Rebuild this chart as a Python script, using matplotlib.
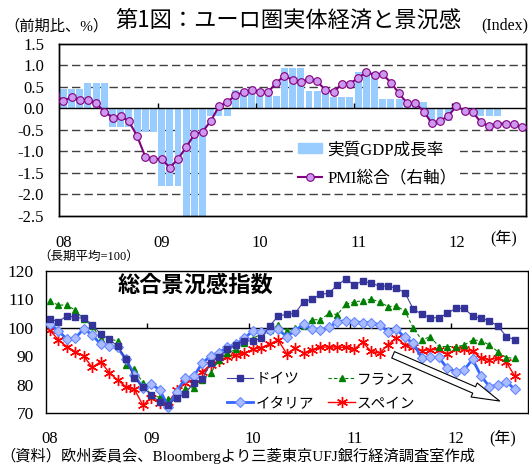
import matplotlib
matplotlib.use("Agg")
import matplotlib.pyplot as plt
from matplotlib.patches import Patch
from matplotlib.lines import Line2D
import numpy as np

plt.rcParams['font.family'] = ['Liberation Serif', 'Noto Sans CJK JP']
JP = ['Noto Sans CJK JP', 'DejaVu Sans']

# --- data (monthly, Jan 2008 = month 0) ---
year_labels = ['08', '09', '10', '11', '12']

# real GDP q/q %, one value per quarter (drawn as 3 monthly bars)
gdp_q = [0.45, 0.6, -0.44, -0.55, -1.8, -2.5, -0.17, 0.43, 0.3, 0.95,
         0.41, 0.27, 0.85, 0.21, 0.16, -0.29, 0.0, -0.18, np.nan]

# composite PMI, Dec 2007 .. Sep 2012 (right axis)
pmi = [53.4,
       51.7, 52.7, 51.9, 52.0, 51.2, 49.3, 47.9, 48.2, 47.0, 43.6, 38.8, 38.2,
       38.3, 36.2, 38.3, 41.0, 44.0, 44.6, 47.1, 50.5, 51.4, 53.1, 53.8, 54.3,
       53.8, 53.8, 56.0, 57.6, 56.6, 56.1, 56.9, 56.3, 54.3, 53.8, 55.7, 55.8,
       57.1, 58.4, 57.8, 58.0, 56.0, 53.5, 51.2, 51.3, 49.3, 46.6, 47.1, 48.3,
       50.5, 49.5, 49.1, 46.8, 45.9, 46.5, 46.5, 46.3, 45.6]

# economic sentiment indicator, Jan 2008 .. Aug 2012
germany = [103.1, 102.1, 104.2, 103.6, 103.3, 101.1, 97.8, 96.0, 93.5, 88.9, 82.3, 79.2,
           76.3, 74.0, 73.0, 75.5, 76.8, 80.7, 81.9, 87.5, 89.9, 92.5, 94.0, 95.4,
           95.4, 96.3, 100.6, 104.1, 104.7, 105.0, 109.1, 110.0, 111.7, 112.1, 115.0, 117.0,
           115.0, 116.4, 115.6, 114.6, 114.6, 113.8, 112.3, 106.4, 104.8, 103.5, 103.5, 105.0,
           106.8, 106.8, 104.1, 103.3, 102.4, 100.6, 96.9, 95.8]
france = [109.4, 107.9, 108.0, 106.1, 103.0, 100.6, 96.2, 95.9, 95.5, 86.8, 85.7, 80.5,
          76.3, 75.6, 74.9, 75.3, 78.6, 79.0, 81.5, 84.0, 88.7, 91.0, 92.5, 94.5,
          96.2, 97.9, 99.2, 100.9, 99.0, 99.8, 100.5, 102.8, 102.8, 105.0, 104.6, 108.2,
          109.1, 109.4, 110.0, 109.1, 107.4, 107.6, 105.8, 99.8, 95.7, 96.9, 93.4, 93.4,
          93.4, 93.9, 95.7, 95.5, 93.9, 91.6, 89.5, 89.3]
italy = [101.3, 98.9, 96.0, 96.4, 99.6, 97.5, 94.2, 93.6, 93.1, 88.9, 83.4, 78.8,
         80.2, 78.2, 72.3, 77.6, 82.3, 82.9, 87.5, 90.1, 91.3, 93.1, 94.2, 96.3,
         98.9, 98.6, 99.2, 99.4, 96.9, 98.9, 101.3, 99.4, 99.2, 100.1, 102.1, 102.5,
         102.1, 101.8, 101.8, 101.0, 98.6, 99.4, 96.6, 94.5, 89.3, 89.6, 89.6, 85.8,
         84.6, 85.2, 88.9, 83.1, 79.3, 79.9, 81.1, 78.4]
spain = [99.2, 95.7, 93.4, 91.6, 90.1, 86.1, 88.1, 84.3, 81.7, 79.3, 78.4, 72.8,
         75.5, 73.5, 73.8, 78.0, 80.5, 82.0, 84.5, 87.0, 88.5, 89.8, 90.5, 91.0,
         92.4, 93.0, 94.3, 95.7, 90.9, 92.8, 91.1, 92.3, 93.2, 93.2, 93.2, 93.1,
         92.5, 94.9, 91.7, 91.1, 94.0, 96.5, 94.0, 93.4, 92.0, 92.3, 92.3, 90.8,
         92.5, 92.5, 91.7, 89.4, 88.8, 89.4, 87.9, 83.0]

n_months = 57
gdp_m = np.repeat(gdp_q, 3)
months = np.arange(len(gdp_m))
pmi_months = np.arange(len(pmi)) - 1
year_pos = np.arange(len(year_labels)) * 12
year_bounds = year_pos[1:] - 0.5

fig = plt.figure(figsize=(5.29, 4.65), dpi=100)

# ---------------- top chart ----------------
ax1 = fig.add_axes([0.1121, 0.5355, 0.8822, 0.3699])
ax1.set_xlim(-0.5, n_months - 0.5)
ax1.set_ylim(-2.5, 1.5)
for g in [-2.0, -1.5, -1.0, -0.5, 0.5, 1.0]:
    ax1.axhline(g, color='#404040', lw=1, ls=(0, (6, 3)), zorder=1)
ax1.bar(months, gdp_m, width=0.85, color='#99CCFF', zorder=2)
ax1.axhline(0, color='black', lw=1, zorder=3)
ax1.vlines(year_bounds, 0, 0.12, color='black', lw=1, zorder=3)
ax1.set_yticks(np.arange(-2.5, 1.6, 0.5))
ax1.set_yticklabels(['%.1f' % v for v in np.arange(-2.5, 1.6, 0.5)], fontsize=12)
ax1.set_xticks(year_pos, year_labels, fontsize=12)
ax1.tick_params(axis='both', length=0)
ax1.tick_params(axis='y', pad=11)
ax1.tick_params(axis='x', pad=14)

ax1b = ax1.twinx()
ax1b.set_ylim(25, 65)
ax1b.set_yticks([])
ax1b.plot(pmi_months, pmi, color='#800080', lw=1.5, marker='o', ms=5.5,
          mfc='#CC99EE', mec='#800080', mew=0.8, zorder=4)
ax1b.set_xlim(-0.5, n_months - 0.5)
for ax in (ax1, ax1b):
    for s in ax.spines.values():
        s.set_linewidth(1)
        s.set_color('black')

h1 = [Patch(color='#99CCFF'),
      Line2D([], [], color='#800080', lw=1.5, marker='o', ms=5.5,
             mfc='#CC99EE', mec='#800080', mew=0.8)]
leg1 = ax1b.legend(h1, ['実質GDP成長率', 'PMI総合（右軸）'], loc='upper left',
                   bbox_to_anchor=(0.505, 0.45), fontsize=12, frameon=True,
                   facecolor='white', edgecolor='none', framealpha=1, fancybox=False,
                   handlelength=1.45, handleheight=0.6, handletextpad=0.3,
                   labelspacing=0.75, borderpad=0.2, borderaxespad=0)

fig.text(0.546, 0.957, '第1図：ユーロ圏実体経済と景況感', family=JP, fontsize=16,
         ha='center', va='center')
fig.text(0.008, 0.943, '（前期比、%）', fontsize=11, ha='left', va='center')
fig.text(0.909, 0.945, '(Index)', fontsize=11.5, ha='left', va='center')
fig.text(0.927, 0.488, '(年)', fontsize=11.5, ha='left', va='center')

# ---------------- bottom chart ----------------
ax2 = fig.add_axes([0.0864, 0.1112, 0.9108, 0.3067])
ax2.set_xlim(-0.5, n_months - 0.5)
ax2.set_ylim(70, 120)
x_esi = np.arange(len(germany))
ax2.axhline(100, color='black', lw=1, zorder=1)
ax2.vlines(year_bounds, 100, 101.7, color='black', lw=1, zorder=1)

l_de, = ax2.plot(x_esi, germany, color='#4040A0', lw=0.8, marker='s', ms=5,
                 mfc='#333399', mec='#333399', zorder=5)
l_fr, = ax2.plot(x_esi, france, color='#008000', lw=0.8, ls=(0, (3, 2)), marker='^',
                 ms=4, mfc='#008000', mec='#008000', zorder=3)
l_it, = ax2.plot(x_esi, italy, color='#3366FF', lw=2, marker='D', ms=5,
                 mfc='#AABBFF', mec='#6688FF', mew=0.8, zorder=4)
l_es, = ax2.plot(x_esi, spain, color='#FF0000', lw=1, marker=(6, 2, 0), ms=8,
                 mec='#FF0000', mew=1, zorder=2)

ax2.set_yticks(np.arange(70, 121, 10))
ax2.set_yticklabels([str(v) for v in range(70, 121, 10)], fontsize=12.5)
ax2.set_xticks(year_pos, year_labels, fontsize=12)
ax2.tick_params(axis='both', length=0)
ax2.tick_params(axis='y', pad=8.5)
ax2.tick_params(axis='x', pad=13)
for s in ax2.spines.values():
    s.set_linewidth(1)
    s.set_color('black')

ax2.annotate('', xy=(53.2, 74.3), xytext=(40.6, 90.5),
             arrowprops=dict(arrowstyle='simple,head_width=1.1,head_length=2.0,tail_width=0.5',
                             fc='white', ec='black', lw=0.8, mutation_scale=10,
                             shrinkA=0, shrinkB=0), zorder=6)

ax2.legend([l_de, l_it, l_fr, l_es], ['ドイツ', 'イタリア', 'フランス', 'スペイン'],
           ncol=2, loc='upper left', bbox_to_anchor=(0.376, 0.29), frameon=False,
           prop={'family': JP, 'size': 10.5}, handlelength=1.8, handletextpad=0.15,
           columnspacing=1.0, labelspacing=0.72, borderpad=0, borderaxespad=0)

ax2.text(0.15, 0.9, '総合景況感指数', transform=ax2.transAxes, family=JP,
         fontsize=16, fontweight='bold', ha='left', va='center')
fig.text(0.072, 0.447, '（長期平均=100）', fontsize=9, ha='left', va='center')
fig.text(0.925, 0.058, '(年)', fontsize=11.5, ha='left', va='center')
fig.text(0.0, 0.0205, '（資料）欧州委員会、Bloombergより三菱東京UFJ銀行経済調査室作成',
         fontsize=11, ha='left', va='center')

fig.savefig('out.png', dpi=100)
